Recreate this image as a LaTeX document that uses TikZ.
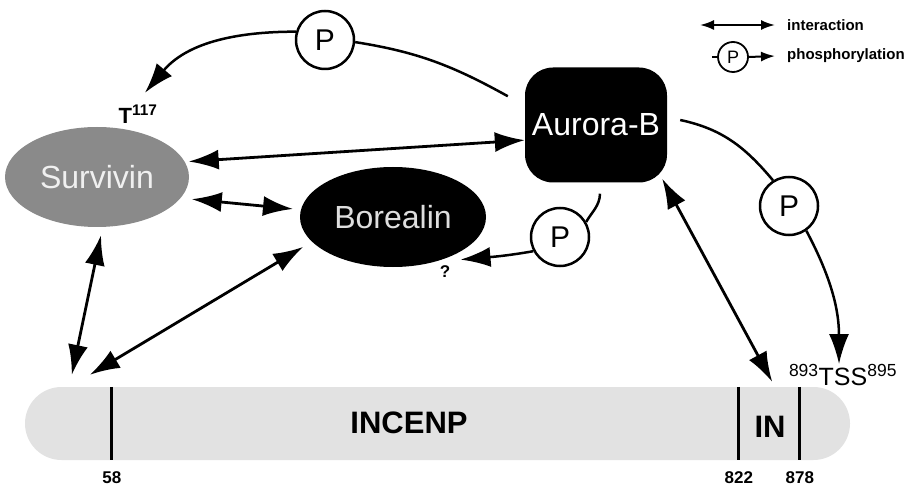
\documentclass[tikz,border=0pt]{standalone}
\usepackage{fontspec}
\setmainfont{Liberation Sans}
\usetikzlibrary{arrows.meta,shapes.geometric}
\definecolor{survgray}{RGB}{138,138,138}
\definecolor{survtext}{RGB}{240,240,240}
\definecolor{boretext}{RGB}{222,222,222}
\definecolor{barfill}{RGB}{226,226,226}

\begin{document}
\begin{tikzpicture}[x=1pt,y=1pt]
\tikzstyle{every node}+=[inner sep=0pt]
\tikzstyle{prot}=[ellipse,minimum width=184,minimum height=100,font=\fontsize{32}{36}\selectfont]
\tikzstyle{pcirc}=[circle,draw,line width=2.5pt,fill=white,minimum size=58,font=\fontsize{30}{32}\selectfont]
\tikzstyle{inter}=[line width=2.8pt,{Latex[length=30pt,width=20pt]}-{Latex[length=30pt,width=20pt]}]
\tikzstyle{phline}=[line width=2.5pt]
\tikzstyle{phos}=[line width=2.5pt,-{Latex[length=30pt,width=20pt]}]
\tikzstyle{tick}=[line width=3pt]
\tikzstyle{small}=[font=\fontsize{15}{17}\selectfont\bfseries]
\useasboundingbox (0,0) rectangle (904,-486);
\node[prot,fill=survgray,text=survtext] (surv) at (97,-177) {Survivin};
\node[prot,fill=black,text=boretext,minimum width=186] (bor) at (393,-217) {Borealin};
\node[fill=black,text=white,rounded corners=28,minimum width=142,minimum height=115,font=\fontsize{32}{36}\selectfont] (aur) at (596,-125) {Aurora-B};
\node[fill=barfill,rounded corners=36.5,minimum width=825,minimum height=73] (incenp) at (437.5,-423.5) {};
\node[font=\fontsize{31}{34}\selectfont\bfseries] (incenpT) at (409,-423) {INCENP};
\node[font=\fontsize{31}{34}\selectfont\bfseries] (inT) at (770,-427) {IN};
\foreach \x/\lab in {87/58,714/822,775/878}
  \draw[tick] ([xshift=\x pt]incenp.north west) -- ([xshift=\x pt]incenp.south west)
    node[below=10pt,font=\fontsize{17}{19}\selectfont\bfseries] (lab\lab) {\lab};
\node[font=\fontsize{22}{24}\selectfont\bfseries] (t117) at (138,-114) {T\textsuperscript{117}};
\node[font=\fontsize{25}{27}\selectfont] (tss) at (843,-375) {\textsuperscript{893}TSS\textsuperscript{895}};
\node[font=\fontsize{17}{19}\selectfont\bfseries] (qmark) at (445,-272) {?};
\node[pcirc] (p1) at (325,-40) {P};
\node[pcirc] (p2) at (560,-237) {P};
\node[pcirc] (p3) at (789,-206) {P};
\draw[inter] ([xshift=4pt]surv.10) -- (aur.192);
\draw[inter] ([xshift=12pt]surv.-15) -- ([xshift=-8pt]bor.175);
\draw[inter] ([shift={(4pt,-8pt)}]surv.south) -- ([shift={(47pt,12pt)}]incenp.north west);
\draw[inter] ([shift={(-10pt,-4pt)}]bor.198) -- ([shift={(65pt,12pt)}]incenp.north west);
\draw[inter] ([shift={(-5pt,4pt)}]aur.south east) -- ([shift={(-78pt,5pt)}]incenp.north east);
\draw[phline] ([xshift=-17pt]aur.158) to[out=151,in=-9] (p1.-4);
\draw[phos] (p1.164) to[out=180,in=50] ([shift={(7pt,12pt)}]t117.north);
\draw[phline] ([shift={(4pt,-11pt)}]aur.south) to[out=-92,in=60] (p2.30);
\draw[phos] (p2.208) to[out=190,in=5] ([shift={(8pt,-4pt)}]bor.-33);
\draw[phline] ([shift={(13pt,5pt)}]aur.east) to[out=-12,in=130] (p3.122);
\draw[phos] (p3.-55) to[out=-62,in=90] ([xshift=-4pt]tss.north);
\node[small,anchor=west] (legInt) at (787,-25) {interaction};
\node[small,anchor=west] (legPho) at (787,-56) {phosphorylation};
\node[circle,draw,line width=1.8pt,fill=white,minimum size=30,font=\fontsize{18}{20}\selectfont] (legP) at (733,-57) {P};
\coordinate (legA) at (700,-25);
\coordinate (legB) at (712,-57);
\draw[line width=2pt,{Latex[length=14pt,width=10pt]}-{Latex[length=14pt,width=10pt]}] (legA) -- ([xshift=-12pt]legInt.west);
\draw[line width=2pt] (legB) -- (legP.west);
\draw[line width=2pt,-{Latex[length=14pt,width=10pt]}] (legP.east) -- ([xshift=-12pt]legPho.west);
\end{tikzpicture}
\end{document}
